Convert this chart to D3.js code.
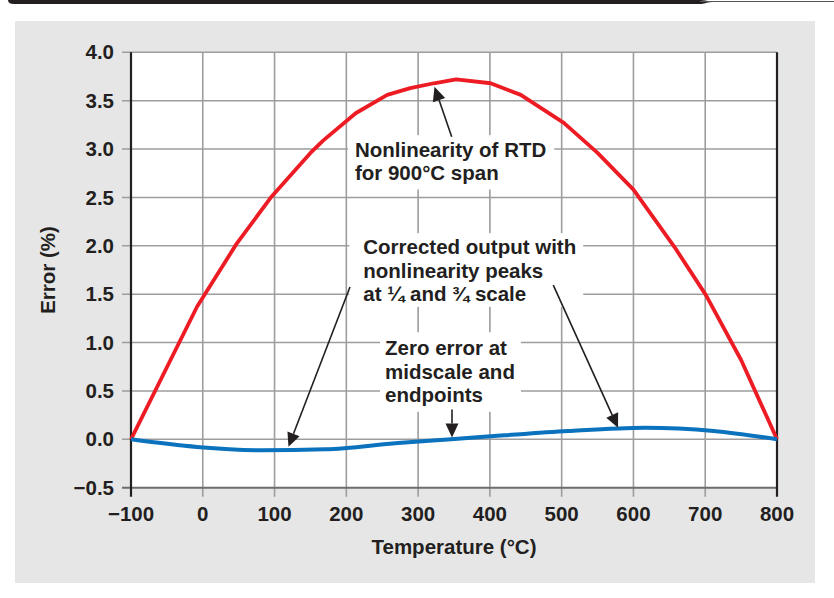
<!DOCTYPE html>
<html>
<head>
<meta charset="utf-8">
<script src="https://cdn.jsdelivr.net/npm/d3@7"></script>
<style>
  body { margin: 0; background: #fff; }
  svg { display: block; font-family: "Liberation Sans", Arial, sans-serif; font-weight: bold; }
</style>
</head>
<body>
<svg width="834" height="598"></svg>
<script>
// RTD nonlinearity, 900 degC span
var rtdTemp  = [-100, -8, 47, 96, 150, 168, 213, 257, 289, 322, 353, 401, 443, 503, 550, 600, 657, 701, 750, 800];
var rtdError = [0, 1.37, 2.02, 2.51, 2.96, 3.09, 3.37, 3.56, 3.63, 3.68, 3.72, 3.68, 3.56, 3.27, 2.96, 2.58, 1.99, 1.49, 0.82, 0];

// corrected output
var corrTemp  = [-100, -8, 82, 171, 272, 346, 420, 509, 616, 712, 800];
var corrError = [0, -0.079, -0.113, -0.103, -0.038, 0, 0.041, 0.086, 0.12, 0.086, 0];

var xTicks = [-100, 0, 100, 200, 300, 400, 500, 600, 700, 800];
var yTicks = [-0.5, 0, 0.5, 1, 1.5, 2, 2.5, 3, 3.5, 4];

// annotations, in data units
var notes = [
  { lines: ["Nonlinearity of RTD", "for 900°C span"], x: 212, y: 2.916, pad: [7, 3, 8, 5] },
  { lines: ["Corrected output with", "nonlinearity peaks", "at ¼ and ¾ scale"], x: 223.6, y: 1.913, pad: [14, 2, 7, 2] },
  { lines: ["Zero error at", "midscale and", "endpoints"], x: 253.9, y: 0.869, pad: [5, 4, 6, 6] }
];
var arrows = [
  { from: [346.8, 3.126], to: [322.8, 3.643] },
  { from: [205.1, 1.575], to: [119.4, -0.078] },
  { from: [488.3, 1.593], to: [578.5, 0.119] },
  { from: [347.2, 0.307], to: [347.2, 0.018] }
];

(function () {

var svg = d3.select("svg");
var ink = "#231f20";

// header strip
svg.append("path")
    .attr("d", "M8,0 L700,0 C704,0 706,1 712,1.5 L834,1.5 L834,2 L712,2 C706,2.5 704,4 700,4 L14,4 Q8,4 8,0 Z")
    .attr("fill", ink);
svg.append("line")
    .attr("x1", 700).attr("x2", 834).attr("y1", 1.5).attr("y2", 1.5)
    .attr("stroke", "#555").attr("stroke-width", 1);

// grey panel
svg.append("rect")
    .attr("x", 15).attr("y", 21).attr("width", 800).attr("height", 562)
    .attr("fill", "#e6e6e6");

var pL = 131, pR = 777, pT = 52.3, pB = 487.7;

var x = d3.scaleLinear().domain([-100, 800]).range([pL, pR]);
var y = d3.scaleLinear().domain([-0.5, 4]).range([pB, pT]);

svg.append("rect")
    .attr("x", pL).attr("y", pT)
    .attr("width", pR - pL).attr("height", pB - pT)
    .attr("fill", "#fff");

var grid = svg.append("g");

grid.selectAll(".vg")
  .data(xTicks.slice(1, -1))
  .enter().append("line")
    .attr("x1", function(d) { return x(d); })
    .attr("x2", function(d) { return x(d); })
    .attr("y1", pT).attr("y2", pB + 9)
    .attr("stroke", "#9d9d9d").attr("stroke-width", 1.6);

grid.selectAll(".hg")
  .data(yTicks.slice(1))
  .enter().append("line")
    .attr("x1", pL - 9).attr("x2", pR)
    .attr("y1", function(d) { return y(d); })
    .attr("y2", function(d) { return y(d); })
    .attr("stroke", "#9d9d9d").attr("stroke-width", 1.6);

// bottom axis line
svg.append("line")
    .attr("x1", pL - 9).attr("x2", pR)
    .attr("y1", pB).attr("y2", pB)
    .attr("stroke", "#6d6d6d").attr("stroke-width", 2);

// left and right frame
svg.selectAll(".frame")
  .data([-100, 800])
  .enter().append("line")
    .attr("x1", function(d) { return x(d); })
    .attr("x2", function(d) { return x(d); })
    .attr("y1", pT).attr("y2", pB + 9)
    .attr("stroke", ink).attr("stroke-width", 2.2);

// tick labels
svg.append("g")
  .selectAll("text")
  .data(xTicks)
  .enter().append("text")
    .attr("x", function(d) { return x(d); })
    .attr("y", 521)
    .attr("text-anchor", "middle")
    .attr("font-size", "20.5px")
    .attr("fill", ink)
    .text(function(d) { return d3.format("d")(d); });

svg.append("g")
  .selectAll("text")
  .data(yTicks)
  .enter().append("text")
    .attr("x", 114)
    .attr("y", function(d) { return y(d); })
    .attr("dy", "0.35em")
    .attr("text-anchor", "end")
    .attr("font-size", "20.5px")
    .attr("fill", ink)
    .text(function(d) { return d3.format(".1f")(d); });

// axis titles
svg.append("text")
    .attr("x", 454).attr("y", 554)
    .attr("text-anchor", "middle")
    .attr("font-size", "20.5px")
    .attr("fill", ink)
    .text("Temperature (°C)");

svg.append("text")
    .attr("transform", "translate(55,270) rotate(-90)")
    .attr("text-anchor", "middle")
    .attr("font-size", "20.5px")
    .attr("fill", ink)
    .text("Error (%)");

// annotation boxes + text
notes.forEach(function(n) {
  var g = svg.append("g");
  var box = g.append("rect").attr("fill", "#fff");
  var t = g.append("text")
      .attr("x", x(n.x)).attr("y", y(n.y))
      .attr("font-size", "20.5px")
      .attr("fill", ink);
  t.selectAll("tspan")
    .data(n.lines)
    .enter().append("tspan")
      .attr("x", x(n.x))
      .attr("dy", function(d, i) { return i ? 23.3 : 0; })
      .text(function(d) { return d; });
  var b = t.node().getBBox();
  box.attr("x", b.x - n.pad[0]).attr("y", b.y - n.pad[1])
     .attr("width", b.width + n.pad[0] + n.pad[2])
     .attr("height", b.height + n.pad[1] + n.pad[3]);
});

// curves
var line = d3.line()
    .x(function(d) { return x(d[0]); })
    .y(function(d) { return y(d[1]); });

svg.append("path")
    .datum(d3.zip(rtdTemp, rtdError))
    .attr("d", line)
    .attr("fill", "none")
    .attr("stroke", "#ed1c24")
    .attr("stroke-width", 3.8)
    .attr("stroke-linejoin", "round");

svg.append("path")
    .datum(d3.zip(corrTemp, corrError))
    .attr("d", line.curve(d3.curveMonotoneX))
    .attr("fill", "none")
    .attr("stroke", "#0b72be")
    .attr("stroke-width", 4)
    .attr("stroke-linejoin", "round");

// arrows
arrows.forEach(function(a) {
  var x1 = x(a.from[0]), y1 = y(a.from[1]), x2 = x(a.to[0]), y2 = y(a.to[1]);
  var ang = Math.atan2(y2 - y1, x2 - x1);
  var len = 14, half = 6.5;
  var bx = x2 - len * Math.cos(ang), by = y2 - len * Math.sin(ang);
  svg.append("line")
      .attr("x1", x1).attr("y1", y1).attr("x2", bx).attr("y2", by)
      .attr("stroke", ink).attr("stroke-width", 1.6);
  svg.append("path")
      .attr("d", "M" + x2 + "," + y2 +
                 "L" + (bx + half * Math.sin(ang)) + "," + (by - half * Math.cos(ang)) +
                 "L" + (bx - half * Math.sin(ang)) + "," + (by + half * Math.cos(ang)) + "Z")
      .attr("fill", ink);
});

})();
</script>
</body>
</html>
